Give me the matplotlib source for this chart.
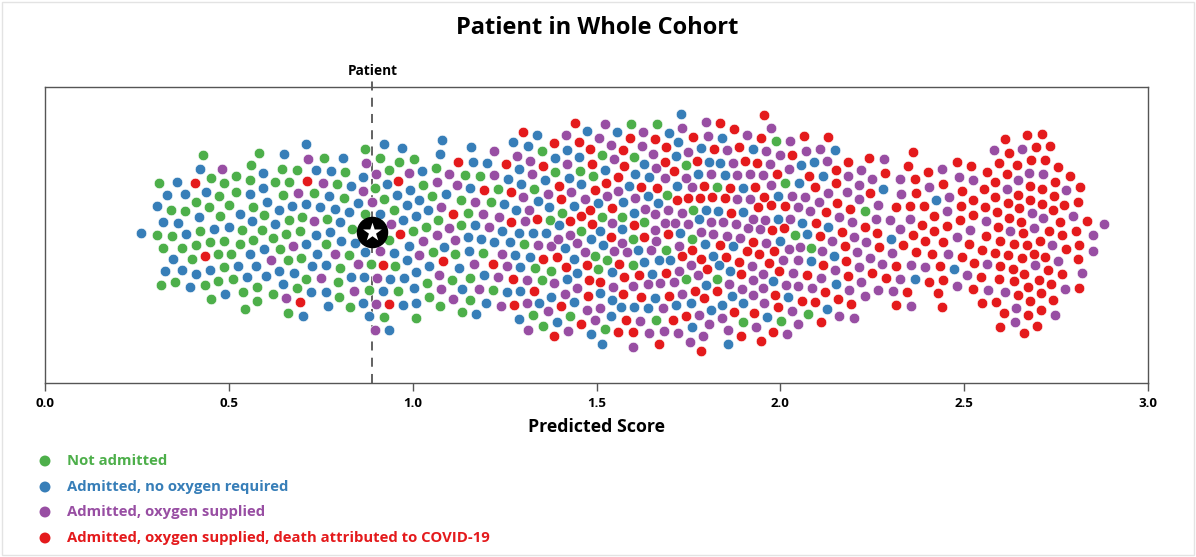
import numpy as np
import matplotlib
matplotlib.use("Agg")
import matplotlib.pyplot as plt
from matplotlib.patches import Rectangle

# ---------------- data (predicted scores) ----------------
PATIENT_SCORE = 0.89

not_admitted = [
    0.32, 0.31, 0.33, 0.34, 0.34, 0.35, 0.37, 0.39, 0.31,
    0.45, 0.48, 0.41, 0.41, 0.45, 0.46, 0.49, 0.45, 0.47, 0.43, 0.42, 0.41, 0.43, 0.46, 0.46, 0.48, 0.48, 0.50, 0.49, 0.50,
    0.57, 0.57, 0.54, 0.52, 0.55, 0.57, 0.52, 0.54, 0.57, 0.57, 0.55, 0.58, 0.58, 0.58, 0.58,
    0.66, 0.65, 0.64, 0.66, 0.65, 0.69, 0.68, 0.70, 0.63, 0.66, 0.69, 0.63, 0.65, 0.68, 0.65, 0.67, 0.70,
    0.73, 0.77, 0.76, 0.76, 0.80, 0.79, 0.80,
    0.83, 0.81, 0.83, 0.81, 0.83, 0.80, 0.90, 0.89, 0.87, 0.88, 0.89,
    0.91, 0.92, 0.92, 0.93, 0.93, 0.96, 0.92, 0.95, 0.92, 0.99,
    1.01, 1.06, 1.04, 1.06, 1.05, 1.08, 1.04, 1.05, 1.00, 1.04, 1.10, 1.05,
    1.11, 1.14, 1.15, 1.15, 1.14, 1.14, 1.15, 1.18, 1.18, 1.15,
    1.23, 1.23, 1.24, 1.29,
    1.32, 1.32, 1.32, 1.36, 1.38, 1.36, 1.39, 1.39, 1.35,
    1.40, 1.49, 1.45, 1.46, 1.42, 1.49,
    1.52, 1.60, 1.52, 1.51, 1.51, 1.59, 1.52, 1.57, 1.60,
    1.60, 1.68, 1.67, 1.69, 1.63, 1.67,
    1.76, 1.76, 1.74, 1.76,
    1.89, 1.83, 1.82,
    1.98,
    2.02, 2.00, 2.01, 2.08, 2.08,
    2.24,
]

no_oxygen = [
    0.26, 0.33, 0.33, 0.33, 0.32, 0.34, 0.36, 0.36, 0.39, 0.39, 0.39, 0.40,
    0.45, 0.41, 0.43, 0.46, 0.44, 0.42, 0.49, 0.49,
    0.54, 0.55, 0.58, 0.56, 0.52, 0.57, 0.56, 0.58, 0.59, 0.60, 0.60, 0.57,
    0.70, 0.67, 0.68, 0.65, 0.63, 0.65, 0.65, 0.64,
    0.71, 0.71, 0.73, 0.73, 0.70, 0.72, 0.75, 0.74, 0.78, 0.73, 0.76, 0.77, 0.78, 0.77, 0.78, 0.76,
    0.83, 0.80, 0.84, 0.82, 0.84, 0.81, 0.81, 0.89, 0.88, 0.89, 0.89, 0.87, 0.89,
    0.92, 0.92, 0.92, 0.95, 0.94, 0.93, 0.92, 0.92, 0.98, 0.98, 0.96, 0.98, 0.99, 0.97, 0.98, 0.97,
    1.08, 1.02, 1.00, 1.04, 1.01, 1.07, 1.09, 1.02, 1.03, 1.05, 1.08, 1.04,
    1.13, 1.16, 1.15, 1.17, 1.16, 1.19, 1.16, 1.15, 1.14, 1.16, 1.18,
    1.20, 1.25, 1.23, 1.20, 1.25, 1.27, 1.27, 1.28, 1.28, 1.29, 1.29,
    1.30, 1.32, 1.30, 1.33, 1.30, 1.32, 1.30, 1.34, 1.35, 1.32, 1.33, 1.38, 1.38, 1.38, 1.37, 1.39, 1.30, 1.28,
    1.42, 1.41, 1.50, 1.43, 1.46, 1.49, 1.45, 1.42, 1.46, 1.44, 1.45, 1.45, 1.48, 1.47, 1.40,
    1.57, 1.59, 1.52, 1.55, 1.53, 1.60, 1.55, 1.58, 1.55, 1.58, 1.51, 1.51, 1.51, 1.53, 1.60, 1.60,
    1.63, 1.64, 1.63, 1.70, 1.67, 1.66, 1.63, 1.67, 1.60, 1.65, 1.66,
    1.71, 1.71, 1.76, 1.77, 1.80, 1.73, 1.73, 1.72, 1.79, 1.77, 1.76, 1.72, 1.79, 1.73,
    1.81, 1.82, 1.80, 1.82, 1.86, 1.84, 1.86, 1.85, 1.87, 1.90, 1.89, 1.86, 1.85, 1.89, 1.85, 1.85, 1.84,
    1.96, 1.99, 1.98, 1.94, 1.98,
    2.02, 2.04, 2.01, 2.08, 2.06, 2.09, 2.07, 2.08,
    2.13, 2.11, 2.14, 2.14, 2.13, 2.15,
    2.27,
    2.31, 2.36,
    2.42, 2.47,
]

oxygen_supplied = [
    0.48,
    0.62, 0.66, 0.68, 0.68,
    0.72, 0.74, 0.75, 0.76, 0.79,
    0.84, 0.88, 0.86, 0.88, 0.90,
    0.90, 0.91, 0.90, 0.90, 0.94, 0.91, 0.98,
    1.04, 1.07, 1.07, 1.03, 1.09, 1.06, 1.07, 1.06,
    1.12, 1.11, 1.11, 1.16, 1.12, 1.19, 1.18, 1.16,
    1.20, 1.22, 1.25, 1.24, 1.22, 1.25, 1.26, 1.30, 1.26, 1.29,
    1.31, 1.30, 1.32, 1.34, 1.31, 1.31, 1.31, 1.32, 1.39, 1.38, 1.39, 1.39,
    1.42, 1.40, 1.41, 1.41, 1.46, 1.49, 1.48, 1.46, 1.50, 1.43, 1.48, 1.43, 1.47, 1.41,
    1.52, 1.54, 1.54, 1.57, 1.59, 1.56, 1.55, 1.53, 1.54, 1.51, 1.55, 1.59, 1.60, 1.60,
    1.65, 1.66, 1.67, 1.68, 1.68, 1.65, 1.62, 1.63, 1.67, 1.68, 1.67, 1.61, 1.69, 1.67, 1.62, 1.66, 1.65, 1.65,
    1.73, 1.72, 1.73, 1.77, 1.74, 1.75, 1.78, 1.76, 1.76, 1.74, 1.73, 1.74, 1.75, 1.78, 1.76, 1.71, 1.72,
    1.80, 1.81, 1.80, 1.81, 1.80, 1.80, 1.85, 1.89, 1.86, 1.88, 1.85, 1.89, 1.86, 1.85, 1.85, 1.84, 1.88, 1.89, 1.79,
    1.91, 1.93, 1.91, 1.92, 1.93, 1.92, 1.93, 1.96, 1.93, 1.94, 1.97, 1.95, 1.94, 1.98, 1.96, 1.95, 1.96, 1.95, 1.95, 1.96,
    2.01, 2.02, 2.00, 2.00, 2.02, 2.02, 2.04, 2.02, 2.03, 2.02, 2.01, 2.02, 2.04, 2.05, 2.07, 2.05, 2.06, 2.06, 2.09, 2.07,
    2.11, 2.11, 2.11, 2.10, 2.13, 2.14, 2.15, 2.19, 2.15, 2.13, 2.15, 2.18, 2.18, 2.20, 2.20, 2.19,
    2.20, 2.22, 2.20, 2.23, 2.26, 2.25, 2.22, 2.25, 2.21, 2.25, 2.22, 2.27, 2.21, 2.27, 2.28,
    2.32, 2.31, 2.34, 2.30, 2.35, 2.36, 2.35, 2.33, 2.30, 2.33,
    2.44, 2.46, 2.49, 2.45, 2.40, 2.40, 2.48, 2.48, 2.45,
    2.51, 2.53, 2.51, 2.56, 2.57, 2.57, 2.59,
    2.62, 2.61, 2.67, 2.69, 2.64, 2.64, 2.68, 2.66, 2.68, 2.65, 2.62,
    2.74, 2.74, 2.79, 2.73, 2.77, 2.70, 2.77, 2.71,
    2.85, 2.88, 2.85, 2.82,
]

death_covid = [
    0.41, 0.44,
    0.69,
    0.72,
    0.91, 0.96, 0.98, 0.92,
    1.10, 1.08,
    1.13, 1.18,
    1.23, 1.26, 1.28, 1.29, 1.27, 1.28,
    1.30, 1.33, 1.32, 1.35, 1.39, 1.39, 1.40, 1.36, 1.39,
    1.41, 1.40, 1.40, 1.49, 1.45, 1.46, 1.48, 1.49, 1.49, 1.47, 1.50, 1.48, 1.46, 1.43, 1.48, 1.49,
    1.53, 1.55, 1.53, 1.57, 1.57, 1.60, 1.58, 1.56, 1.57, 1.58, 1.54, 1.51, 1.57, 1.58, 1.60,
    1.63, 1.61, 1.68, 1.68, 1.67, 1.68, 1.63, 1.67, 1.69, 1.63, 1.69, 1.68,
    1.72, 1.76, 1.78, 1.75, 1.78, 1.76, 1.78, 1.76, 1.78, 1.73, 1.79, 1.72, 1.73, 1.75, 1.78,
    1.80, 1.82, 1.80, 1.82, 1.88, 1.83, 1.89, 1.85, 1.88, 1.86, 1.86, 1.88, 1.86, 1.90, 1.84, 1.86, 1.89,
    1.91, 1.93, 1.93, 1.93, 1.97, 1.95, 1.95, 1.99, 1.98, 1.97, 1.95, 1.98, 1.99, 1.94, 1.98, 1.99, 1.94, 1.94, 1.96,
    2.01, 2.00, 2.03, 2.01, 2.05, 2.09, 2.07, 2.06, 2.09, 2.10, 2.07, 2.10,
    2.11, 2.15, 2.13, 2.14, 2.16, 2.15, 2.13, 2.11, 2.13, 2.15, 2.19, 2.18, 2.18, 2.19, 2.19, 2.17,
    2.27, 2.26, 2.25, 2.23, 2.27, 2.24, 2.23, 2.28,
    2.36, 2.39, 2.32, 2.36, 2.33, 2.36, 2.38, 2.32, 2.36, 2.36, 2.34, 2.32, 2.36, 2.35,
    2.41, 2.43, 2.40, 2.44, 2.48, 2.49, 2.44, 2.49, 2.43, 2.40, 2.44, 2.49, 2.40, 2.44, 2.44, 2.49, 2.41, 2.44,
    2.53, 2.55, 2.55, 2.52, 2.56, 2.54, 2.53, 2.52, 2.56, 2.53, 2.56, 2.56, 2.60, 2.60, 2.60, 2.57, 2.59, 2.60, 2.59,
    2.67, 2.62, 2.64, 2.67, 2.67, 2.70, 2.61, 2.65, 2.68, 2.61, 2.64, 2.70, 2.61, 2.64, 2.67, 2.63, 2.66, 2.65, 2.63,
    2.67, 2.68, 2.61, 2.67, 2.61, 2.67, 2.62, 2.65, 2.68, 2.61, 2.66, 2.70, 2.62, 2.68, 2.63, 2.66, 2.61, 2.67,
    2.73, 2.72, 2.74, 2.71, 2.71, 2.75, 2.79, 2.71, 2.75, 2.72, 2.75, 2.73, 2.80, 2.72, 2.75, 2.74, 2.71, 2.75,
    2.73, 2.71, 2.75, 2.73, 2.74,
    2.81, 2.81, 2.83, 2.81, 2.81, 2.80,
]

categories = ["Not admitted", "Admitted, no oxygen required",
              "Admitted, oxygen supplied",
              "Admitted, oxygen supplied, death attributed to COVID-19"]
series = [not_admitted, no_oxygen, oxygen_supplied, death_covid]
colors = ["#4daf4a", "#377eb8", "#984ea3", "#e41a1c"]
x_ticks = [0.0, 0.5, 1.0, 1.5, 2.0, 2.5, 3.0]

# ---------------- figure geometry ----------------
W, H = 1196, 557
fig = plt.figure(figsize=(W / 100, H / 100), dpi=100)
AX_L, AX_R, AX_T, AX_B = 45, 1148, 87, 383
CY = 232
ax = fig.add_axes([AX_L / W, 1 - AX_B / H, (AX_R - AX_L) / W, (AX_B - AX_T) / H])
XMIN, XMAX = 0.0, 3.0
ppu = (AX_R - AX_L) / (XMAX - XMIN)
ax.set_xlim(XMIN, XMAX)
ax.set_ylim(-(AX_B - CY), CY - AX_T)   # y axis in pixels around swarm centre

# ---------------- swarm layout (simple collision simulation, pixels) ----------------
scores = np.concatenate([np.asarray(s, float) for s in series])
cat_idx = np.concatenate([np.full(len(s), i) for i, s in enumerate(series)])
n = len(scores)
tx = np.append(scores, PATIENT_SCORE) * ppu
DOT_R = 7.4
rad = np.full(n + 1, DOT_R)
rad[-1] = 14.0
x = tx.copy()
y = ((np.arange(n + 1) * 0.6180339887) % 1.0 - 0.5) * 260.0
y[-1] = 0.0
maxR = 2 * rad.max()


def collide(x, y, strength):
    order = np.argsort(x)
    xs, ys, rs = x[order], y[order], rad[order]
    mx = np.zeros(len(x))
    my = np.zeros(len(x))
    for k in range(1, len(x)):
        dx = xs[k:] - xs[:-k]
        if dx.min() > maxR:
            break
        dy = ys[k:] - ys[:-k]
        R = rs[k:] + rs[:-k]
        d2 = dx * dx + dy * dy
        m = d2 < R * R
        if not m.any():
            continue
        i = np.nonzero(m)[0]
        d = np.sqrt(d2[m]) + 1e-6
        f = (R[m] - d) / d * 0.5 * strength
        np.add.at(mx, i + k, f * dx[m])
        np.add.at(mx, i, -f * dx[m])
        np.add.at(my, i + k, f * dy[m])
        np.add.at(my, i, -f * dy[m])
    out_x = np.zeros(len(x))
    out_y = np.zeros(len(x))
    out_x[order] = mx
    out_y[order] = my
    return out_x, out_y


for it in range(350):
    x += (tx - x) * 0.4
    y -= y * 0.012
    x[-1], y[-1] = tx[-1], 0.0
    ddx, ddy = collide(x, y, 0.8)
    x += ddx
    y += ddy
    x[-1], y[-1] = tx[-1], 0.0
for it in range(80):
    x += (tx - x) * 0.1
    ddx, ddy = collide(x, y, 0.8)
    x += ddx
    y += ddy
    x[-1], y[-1] = tx[-1], 0.0

xd = x[:n] / ppu
yd = y[:n]

# ---------------- draw ----------------
FONT = ["Open Sans", "DejaVu Sans"]
for i, c in enumerate(colors):
    m = cat_idx == i
    ax.scatter(xd[m], yd[m], s=58, color=c, edgecolors="white", linewidths=0.5, zorder=3)

ax.axvline(PATIENT_SCORE, ymin=0, ymax=1.03, color="#555555", linestyle=(0, (5, 4)),
           linewidth=1.3, zorder=2, clip_on=False)
ax.scatter([PATIENT_SCORE], [0], s=470, color="black", zorder=5)
ax.scatter([PATIENT_SCORE], [0], s=200, marker="*", color="white", zorder=6, linewidths=0)

for side in ["top", "left", "right", "bottom"]:
    ax.spines[side].set_color("#555555")
    ax.spines[side].set_linewidth(1.0)
ax.set_yticks([])
ax.set_xticks(x_ticks)
ax.set_xticklabels([f"{t:.1f}" for t in x_ticks], fontsize=9.5, fontweight="bold", family=FONT)
ax.tick_params(axis="x", direction="out", length=6, width=1, color="#555555", pad=4)
ax.set_xlabel("Predicted Score", fontsize=12.8, fontweight="bold", family=FONT, labelpad=6)

# overlay axes in pixel coordinates for title, labels, legend
ov = fig.add_axes([0, 0, 1, 1], zorder=-1)
ov.set_xlim(0, W)
ov.set_ylim(H, 0)
ov.axis("off")
ov.add_patch(Rectangle((1.5, 1.5), W - 4, H - 4, fill=False, edgecolor="#e3e3e3", linewidth=1))
fig.text(597 / W, 1 - 28 / H, "Patient in Whole Cohort", ha="center", va="center",
         fontsize=17, fontweight="bold", family=FONT)
fig.text(373 / W, 1 - 71 / H, "Patient", ha="center", va="center",
         fontsize=9.8, fontweight="bold", family=FONT)

leg_y = [461, 487, 512, 538]
for ly, lab, c in zip(leg_y, categories, colors):
    ov.scatter([45], [ly], s=62, color=c, edgecolors="none")
    ov.text(67, ly, lab, ha="left", va="center", color=c, fontsize=10.7,
            fontweight="bold", family=FONT)

fig.savefig("out.png", dpi=100)
